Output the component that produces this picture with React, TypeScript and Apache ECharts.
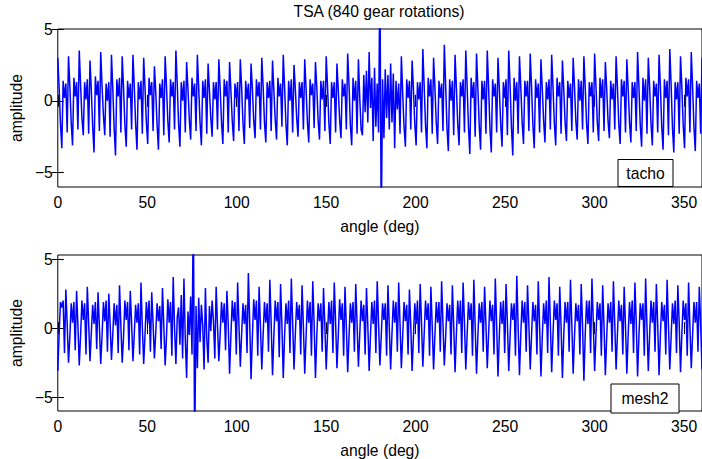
import React, { useEffect, useRef } from "react";
import * as echarts from "echarts";

const titleText = "TSA (840 gear rotations)";
const xTitle = "angle (deg)";
const yTitle = "amplitude";
const legendTop = "tacho";
const legendBottom = "mesh2";
const angleStep = 0.75;
const yTickValues = [-5, 0, 5];

// tacho TSA, one row per ~6 deg tooth period (8 samples per row, 0.75 deg apart)
const tachoValues = [
  3.0, 0.9, -1.6, -3.3, 1.4, 0.2, 1.2, -2.2,
  3.1, 1.0, -1.5, -3.1, 1.6, 0.3, 1.3, -2.0,
  3.5, 1.1, -1.2, -2.4, 1.3, 0.1, 1.5, -2.3,
  2.8, 0.7, -1.8, -3.6, 1.7, 0.4, 1.4, -2.1,
  3.4, 1.0, -1.0, -2.4, 1.2, 0.0, 1.3, -2.5,
  3.2, 0.8, -1.9, -3.8, 1.5, 0.3, 1.6, -2.2,
  3.1, 0.9, -1.7, -3.2, 1.4, 0.2, 1.2, -2.0,
  3.2, 1.0, -1.6, -3.4, 1.3, 0.1, 1.4, -2.3,
  3.0, 0.9, -1.5, -3.0, 1.6, 0.4, 1.3, -2.1,
  2.4, 0.6, -1.7, -3.4, 1.2, 0.2, 1.5, -2.4,
  3.1, 1.0, -1.4, -2.9, 1.5, 0.3, 1.3, -2.0,
  3.5, 1.2, -1.6, -3.2, 1.3, 0.0, 1.4, -2.2,
  2.7, 0.8, -1.3, -2.7, 1.6, 0.3, 1.2, -2.1,
  3.2, 0.9, -1.5, -3.1, 1.4, 0.2, 1.5, -2.3,
  2.6, 0.7, -1.2, -2.5, 1.3, 0.1, 1.3, -2.0,
  2.9, 0.8, -1.5, -3.0, 1.5, 0.3, 1.4, -2.2,
  2.7, 0.7, -1.4, -2.8, 1.2, 0.2, 1.3, -2.1,
  2.9, 0.9, -1.6, -3.0, 1.4, 0.1, 1.2, -1.9,
  2.6, 0.8, -1.4, -2.6, 1.5, 0.3, 1.3, -2.0,
  3.0, 1.0, -1.5, -2.9, 1.3, 0.2, 1.4, -2.1,
  2.8, 0.7, -1.3, -2.7, 1.6, 0.3, 1.2, -1.8,
  3.2, 0.9, -1.6, -3.1, 1.4, 0.0, 1.5, -2.2,
  2.5, 0.8, -1.2, -2.5, 1.3, 0.2, 1.3, -2.0,
  2.9, 0.8, -1.5, -2.9, 1.5, 0.4, 1.2, -1.9,
  2.7, 0.9, -1.4, -2.7, 1.4, 0.1, 1.4, -2.1,
  3.1, 1.0, -1.6, -3.0, 1.3, 0.2, 1.3, -2.2,
  2.6, 0.7, -1.3, -2.6, 1.5, 0.3, 1.2, -2.0,
  3.3, 1.1, -1.7, -3.1, 1.6, 0.0, 1.4, -2.3,
  2.9, 0.2, -2.0, -2.4, 1.8, -0.8, 2.1, -1.5,
  3.4, -0.5, 1.6, -2.8, 2.3, -1.8, 1.2, -2.2,
  9.0, -9.0, 1.5, -2.6, 2.2, -1.2, 1.8, -2.0,
  2.6, -1.5, 1.9, -3.3, 1.4, -0.6, 1.2, -2.3,
  3.1, 0.5, -1.8, -3.2, 1.5, 0.2, 1.4, -2.0,
  2.8, 0.8, -1.6, -3.1, 1.3, 0.1, 1.3, -2.2,
  3.6, 1.0, -1.7, -3.3, 1.6, 0.3, 1.5, -2.3,
  3.0, 0.9, -1.5, -3.0, 1.4, 0.2, 1.2, -2.1,
  3.9, 1.1, -1.9, -3.5, 1.5, 0.0, 1.4, -2.4,
  3.2, 0.9, -1.6, -3.1, 1.3, 0.3, 1.5, -2.2,
  3.5, 1.0, -1.8, -3.7, 1.6, 0.2, 1.3, -2.5,
  3.3, 0.9, -1.7, -3.4, 1.4, 0.1, 1.4, -2.3,
  3.5, 1.0, -1.9, -3.6, 1.5, 0.3, 1.2, -2.2,
  3.0, 0.8, -1.6, -3.2, 1.3, 0.2, 1.5, -2.4,
  3.5, 1.1, -1.8, -3.8, 1.6, 0.0, 1.3, -2.3,
  3.1, 0.9, -1.5, -3.0, 1.4, 0.3, 1.4, -2.1,
  3.3, 1.0, -1.7, -3.3, 1.5, 0.2, 1.2, -2.2,
  2.9, 0.8, -1.4, -2.9, 1.3, 0.1, 1.5, -2.0,
  3.2, 0.9, -1.6, -3.1, 1.6, 0.3, 1.3, -2.3,
  2.8, 0.8, -1.5, -2.8, 1.4, 0.2, 1.2, -2.1,
  3.0, 1.0, -1.4, -2.7, 1.5, 0.0, 1.4, -2.0,
  3.1, 0.9, -1.6, -3.0, 1.3, 0.3, 1.3, -2.2,
  3.3, 1.0, -1.5, -2.8, 1.6, 0.2, 1.5, -2.1,
  2.7, 0.8, -1.4, -2.6, 1.4, 0.1, 1.2, -2.0,
  3.1, 0.9, -1.6, -3.0, 1.5, 0.3, 1.4, -2.2,
  2.9, 0.8, -1.5, -2.9, 1.3, 0.2, 1.3, -2.1,
  3.4, 1.0, -1.7, -3.2, 1.6, 0.0, 1.5, -2.3,
  3.0, 0.9, -1.6, -3.1, 1.4, 0.3, 1.2, -2.2,
  3.2, 1.0, -1.8, -3.4, 1.5, 0.2, 1.4, -2.4,
  3.6, 1.1, -1.9, -3.6, 1.3, 0.1, 1.3, -2.3,
  3.1, 0.9, -1.7, -3.3, 1.6, 0.3, 1.5, -2.2,
  3.4, 1.0, -1.8, -3.5, 1.4, 0.2, 1.2, -2.3,
  3.0,
];

// mesh2 TSA, one row per ~6 deg tooth period (8 samples per row, 0.75 deg apart)
const mesh2Values = [
  -3.1, -0.4, 1.9, 1.5, 2.0, -1.8, 2.8, 0.3,
  -2.5, -0.6, 1.8, 0.4, 1.9, -1.6, 2.7, 0.2,
  -2.7, -0.5, 2.0, 0.6, 1.8, -1.9, 3.0, 0.4,
  -2.4, -0.3, 1.7, 0.3, 1.9, -1.5, 2.6, 0.1,
  -2.6, -0.5, 1.9, 0.5, 2.0, -1.7, 2.5, 0.3,
  -2.3, -0.4, 1.8, 0.2, 1.7, -1.8, 3.1, 0.2,
  -2.5, -0.6, 2.0, 0.6, 1.9, -1.6, 2.7, 0.4,
  -2.4, -0.4, 1.7, 0.4, 1.8, -1.9, 3.3, 0.1,
  -2.6, -0.5, 1.9, 0.3, 2.0, -1.7, 2.6, 0.3,
  -2.2, -0.3, 1.8, 0.5, 1.6, -1.5, 2.9, 0.2,
  -2.7, -0.6, 2.1, 0.4, 1.9, -2.0, 3.7, 0.0,
  -2.6, 0.8, 1.5, -1.2, 2.4, -2.2, 3.6, -0.8,
  -3.6, 1.2, -0.5, 2.3, -1.9, 9.0, -9.0, 1.6,
  -2.9, 2.2, -1.0, 1.7, 0.2, -3.0, 2.9, -0.7,
  -2.5, 1.6, -0.2, 2.0, 0.5, -2.2, 3.0, 0.2,
  -2.4, -0.4, 1.9, 0.4, 1.8, -1.6, 2.7, 0.3,
  -3.3, -0.5, 2.0, 0.5, 1.9, -1.9, 3.3, 0.2,
  -2.8, -0.4, 1.8, 0.3, 1.7, -1.8, 4.0, 0.4,
  -3.7, -0.6, 2.1, 0.6, 2.0, -2.0, 3.0, 0.1,
  -3.0, -0.5, 1.9, 0.4, 1.8, -1.7, 3.5, 0.3,
  -3.4, -0.6, 2.0, 0.5, 1.9, -2.1, 3.2, 0.2,
  -3.6, -0.5, 1.8, 0.3, 2.0, -1.8, 3.6, 0.4,
  -3.0, -0.4, 1.9, 0.6, 1.7, -1.9, 3.1, 0.1,
  -3.3, -0.6, 2.0, 0.4, 1.9, -2.0, 3.4, 0.3,
  -3.6, -0.5, 1.8, 0.5, 1.8, -1.7, 2.9, 0.2,
  -3.0, -0.4, 1.9, 0.3, 2.0, -1.8, 3.3, 0.4,
  -2.9, -0.5, 2.1, 0.6, 1.8, -2.0, 3.0, 0.1,
  -3.2, -0.6, 1.8, 0.4, 1.9, -1.7, 3.2, 0.3,
  -2.8, -0.4, 2.0, 0.5, 1.7, -1.9, 2.9, 0.2,
  -3.1, -0.5, 1.9, 0.3, 2.0, -1.8, 3.4, 0.4,
  -2.7, -0.6, 1.8, 0.6, 1.8, -2.0, 3.1, 0.1,
  -3.0, -0.4, 2.0, 0.4, 1.9, -1.7, 3.3, 0.3,
  -2.9, -0.5, 1.9, 0.5, 1.7, -1.9, 2.8, 0.2,
  -3.1, -0.6, 1.8, 0.3, 2.0, -1.8, 3.2, 0.4,
  -2.8, -0.4, 2.0, 0.6, 1.8, -2.0, 3.0, 0.1,
  -3.0, -0.5, 1.9, 0.4, 1.9, -1.7, 3.4, 0.3,
  -2.7, -0.6, 1.8, 0.5, 1.7, -1.9, 3.1, 0.2,
  -3.2, -0.4, 2.0, 0.3, 2.0, -1.8, 3.3, 0.4,
  -3.0, -0.5, 1.9, 0.6, 1.8, -2.0, 3.5, 0.1,
  -3.3, -0.6, 1.8, 0.4, 1.9, -1.7, 3.0, 0.3,
  -2.9, -0.4, 2.0, 0.5, 1.7, -1.9, 3.6, 0.2,
  -3.5, -0.5, 1.9, 0.3, 2.0, -1.8, 3.2, 0.4,
  -3.1, -0.6, 1.8, 0.6, 1.8, -2.0, 3.8, 0.1,
  -3.4, -0.4, 2.0, 0.4, 1.9, -1.7, 3.1, 0.3,
  -3.0, -0.5, 1.9, 0.5, 1.7, -1.9, 3.4, 0.2,
  -3.5, -0.6, 1.8, 0.3, 2.0, -1.8, 3.7, 0.4,
  -3.2, -0.4, 2.0, 0.6, 1.8, -2.0, 3.0, 0.1,
  -3.6, -0.5, 1.9, 0.4, 1.9, -1.7, 3.5, 0.3,
  -3.3, -0.6, 1.8, 0.5, 1.7, -1.9, 3.2, 0.2,
  -3.8, -0.4, 2.0, 0.3, 2.0, -1.8, 3.6, 0.4,
  -3.1, -0.5, 1.9, 0.6, 1.8, -2.0, 3.1, 0.1,
  -3.4, -0.6, 1.8, 0.4, 1.9, -1.7, 3.4, 0.3,
  -3.0, -0.4, 2.0, 0.5, 1.7, -1.9, 3.0, 0.2,
  -3.3, -0.5, 1.9, 0.3, 2.0, -1.8, 3.3, 0.4,
  -3.5, -0.6, 1.8, 0.6, 1.8, -2.0, 3.6, 0.1,
  -3.1, -0.4, 2.0, 0.4, 1.9, -1.7, 3.2, 0.3,
  -3.4, -0.5, 1.9, 0.5, 1.7, -1.9, 3.5, 0.2,
  -3.0, -0.6, 1.8, 0.3, 2.0, -1.8, 3.1, 0.4,
  -3.2, -0.4, 2.0, 0.6, 1.8, -2.0, 3.3, 0.1,
  -2.9, -0.5, 1.9, 0.4, 1.9, -1.7, 3.0, 0.3,
  -3.0,
];

const FONT = "Liberation Sans";
const FS = 15.7;

function toPairs(vals: number[]) {
  return vals.map((v, i) => [i * angleStep, v]);
}

function xAxes(gridIndex: number) {
  const common = {
    gridIndex,
    type: "value",
    min: 0,
    max: 360,
    interval: 50,
    axisLine: { show: false },
    axisTick: { show: true, inside: true, length: 6, lineStyle: { color: "#000", width: 1 } },
    splitLine: { show: false },
  };
  return [
    {
      ...common,
      position: "bottom",
      axisLabel: { color: "#000", fontFamily: FONT, fontSize: FS, margin: 7 },
      name: xTitle,
      nameLocation: "middle",
      nameGap: 31,
      nameTextStyle: { color: "#000", fontFamily: FONT, fontSize: FS },
    },
    { ...common, position: "top", axisLabel: { show: false } },
  ];
}

function yAxes(gridIndex: number, max: number) {
  const common = {
    gridIndex,
    type: "value",
    min: -6,
    max,
    axisLine: { show: false },
    axisTick: {
      show: true,
      inside: true,
      length: 6,
      customValues: yTickValues,
      lineStyle: { color: "#000", width: 1 },
    },
    splitLine: { show: false },
  };
  return [
    {
      ...common,
      position: "left",
      axisLabel: {
        color: "#000",
        fontFamily: FONT,
        fontSize: FS,
        margin: 5,
        customValues: yTickValues,
        formatter: (v: number) => (v < 0 ? "\u2212" + Math.abs(v) : String(v)),
      },
      name: yTitle,
      nameLocation: "middle",
      nameRotate: 90,
      nameGap: 30,
      nameTextStyle: { color: "#000", fontFamily: FONT, fontSize: FS },
    },
    { ...common, position: "right", axisLabel: { show: false } },
  ];
}

function legendBox(x: number, y: number, w: number, h: number, label: string) {
  return [
    {
      type: "rect",
      z: 100,
      shape: { x, y, width: w, height: h },
      style: { fill: "#fff", stroke: "#000", lineWidth: 1 },
    },
    {
      type: "text",
      z: 101,
      x: x + w / 2,
      y: y + h / 2,
      style: {
        text: label,
        fill: "#000",
        font: `${FS}px "${FONT}"`,
        textAlign: "center",
        textVerticalAlign: "middle",
      },
    },
  ];
}

export default function App() {
  const ref = useRef<HTMLDivElement>(null);
  useEffect(() => {
    if (!ref.current) return;
    const chart = echarts.init(ref.current, null, { renderer: "svg" });
    const gridCommon = {
      left: 53,
      width: 652,
      height: 158,
      show: true,
      borderColor: "#000",
      borderWidth: 1,
      backgroundColor: "#fff",
      containLabel: false,
    };
    chart.setOption({
      animation: false,
      backgroundColor: "#fff",
      grid: [
        { ...gridCommon, top: 29 },
        { ...gridCommon, top: 255 },
      ],
      xAxis: [...xAxes(0), ...xAxes(1)],
      yAxis: [...yAxes(0, 5), ...yAxes(1, 5.3)],
      series: [
        {
          type: "line",
          xAxisIndex: 0,
          yAxisIndex: 0,
          data: toPairs(tachoValues),
          showSymbol: false,
          clip: true,
          lineStyle: { color: "#0000ff", width: 1.5 },
        },
        {
          type: "line",
          xAxisIndex: 2,
          yAxisIndex: 2,
          data: toPairs(mesh2Values),
          showSymbol: false,
          clip: true,
          lineStyle: { color: "#0000ff", width: 1.5 },
        },
      ],
      graphic: [
        {
          type: "text",
          x: 379,
          y: 11,
          style: {
            text: titleText,
            fill: "#000",
            font: `${FS}px "${FONT}"`,
            textAlign: "center",
            textVerticalAlign: "middle",
          },
        },
        ...legendBox(618, 159.5, 55, 27, legendTop),
        ...legendBox(611, 384, 68, 29, legendBottom),
      ],
    });
    return () => chart.dispose();
  }, []);
  return (
    <div
      ref={ref}
      style={{ position: "absolute", left: 0, top: 0, width: 702, height: 459, background: "#fff" }}
    />
  );
}
